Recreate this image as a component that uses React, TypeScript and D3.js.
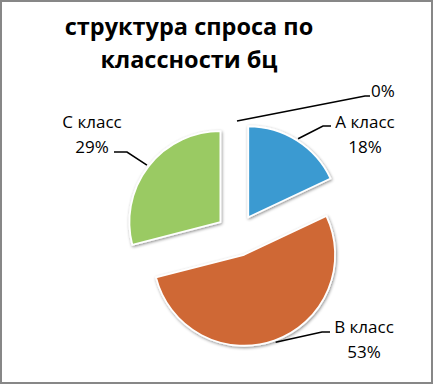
import { useEffect, useRef } from 'react';
import * as d3 from 'd3';

const width = 433;
const height = 385;

// data
const categories = ['А класс', 'В класс', 'С класс', ''];
const values = [18, 53, 29, 0];
const colors = ['#3A9AD1', '#CF6834', '#9ACA64', '#FFFFFF'];
const titleLines = ['структура спроса по', 'классности бц'];

// label layout: elbow / end of the leader, text centre (relative to pie centre)
const labelLayout = [
  { elbow: [86, -109], end: [94, -109], tx: 128, ty: -113, anchor: 'middle' },
  { elbow: [85, 97], end: [93, 97], tx: 127, ty: 92, anchor: 'middle' },
  { elbow: [-110, -83], end: [-123, -83], tx: -145, ty: -113, anchor: 'middle' },
  { elbow: [128, -139], end: [133, -139], tx: 134, ty: -144, anchor: 'start' },
];

const App = () => {
  const ref = useRef<SVGSVGElement>(null);

  useEffect(() => {
    const svg = d3.select(ref.current);
    svg.selectAll('*').remove();

    const defs = svg.append('defs');
    const f = defs
      .append('filter')
      .attr('id', 'shadow')
      .attr('x', '-20%')
      .attr('y', '-20%')
      .attr('width', '140%')
      .attr('height', '140%');
    f.append('feDropShadow')
      .attr('dx', 0.8)
      .attr('dy', 1.2)
      .attr('stdDeviation', 1.4)
      .attr('flood-color', '#000')
      .attr('flood-opacity', 0.45);

    svg
      .append('rect')
      .attr('x', 1)
      .attr('y', 1)
      .attr('width', width - 2)
      .attr('height', height - 3)
      .attr('fill', '#fff')
      .attr('stroke', '#878787')
      .attr('stroke-width', 2);

    // title
    svg
      .append('g')
      .selectAll('text')
      .data(titleLines)
      .join('text')
      .attr('x', 189)
      .attr('y', (d, i) => 35 + i * 33)
      .attr('text-anchor', 'middle')
      .attr('font-family', '"Open Sans", sans-serif')
      .attr('font-weight', 'bold')
      .attr('font-size', 23.5)
      .attr('fill', '#000')
      .text((d) => d);

    const cx = 237;
    const cy = 235;
    const radius = 91;
    const explode = 21;

    const total = d3.sum(values);
    const pie = d3
      .pie<number>()
      .sort(null)
      .value((d) => d);
    const arcs = pie(values);
    const arc = d3.arc<d3.PieArcDatum<number>>().innerRadius(0).outerRadius(radius);

    const g = svg.append('g').attr('transform', `translate(${cx}, ${cy})`);

    const offset = (d: d3.PieArcDatum<number>) => {
      const mid = (d.startAngle + d.endAngle) / 2;
      return [Math.sin(mid) * explode, -Math.cos(mid) * explode];
    };

    g.selectAll('path.slice')
      .data(arcs)
      .join('path')
      .attr('class', 'slice')
      .attr('transform', (d) => {
        const [ox, oy] = offset(d);
        return `translate(${ox}, ${oy})`;
      })
      .attr('d', arc)
      .attr('fill', (d, i) => colors[i])
      .attr('stroke', '#fff')
      .attr('stroke-width', (d) => (d.value === 0 ? 4 : 1.8))
      .attr('stroke-linejoin', 'round')
      .attr('filter', 'url(#shadow)');

    // leader lines
    const fmt = (v: number) => `${Math.round((v / total) * 100)}%`;
    arcs.forEach((d, i) => {
      const [ox, oy] = offset(d);
      const mid = (d.startAngle + d.endAngle) / 2;
      const r = radius + 2;
      const sx = ox + Math.sin(mid) * r;
      const sy = oy - Math.cos(mid) * r;
      const lay = labelLayout[i];
      g.append('path')
        .attr('d', d3.line()([[sx, sy], lay.elbow as [number, number], lay.end as [number, number]]))
        .attr('fill', 'none')
        .attr('stroke', '#000')
        .attr('stroke-width', 1.6);

      const lines = categories[i] ? [categories[i], fmt(d.value)] : [fmt(d.value)];
      g.append('g')
        .selectAll('text')
        .data(lines)
        .join('text')
        .attr('x', lay.tx)
        .attr('y', (t, j) => lay.ty + j * 25)
        .attr('dy', '0.35em')
        .attr('text-anchor', lay.anchor)
        .attr('font-family', '"Open Sans", sans-serif')
        .attr('font-size', 17)
        .attr('fill', '#000')
        .text((t) => t);
    });
  }, []);

  return (
    <svg
      ref={ref}
      width={width}
      height={height}
      viewBox={`0 0 ${width} ${height}`}
      style={{ position: 'absolute', left: 0, top: 0 }}
    />
  );
};

export default App;
